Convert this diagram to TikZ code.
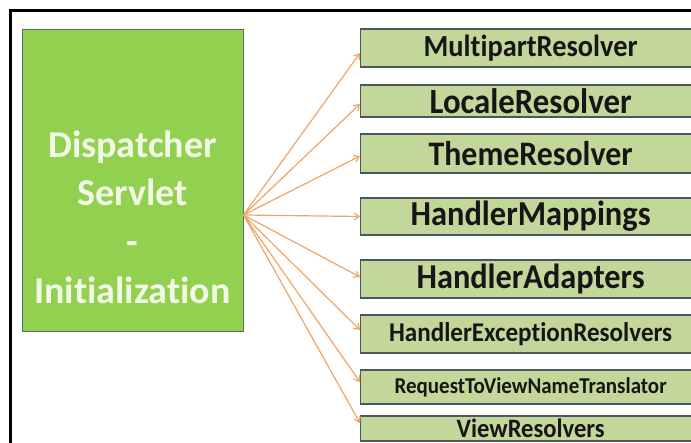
\documentclass[tikz,border=0pt]{standalone}
\usepackage{fontspec}
\setmainfont{Carlito}[Ligatures={NoCommon}]
\usepackage{graphicx}
\usetikzlibrary{arrows.meta}
\definecolor{dsgreen}{RGB}{146,208,80}
\definecolor{dsborder}{RGB}{84,112,100}
\definecolor{rbfill}{RGB}{196,215,155}
\definecolor{rbborder}{RGB}{72,88,92}
\definecolor{arr}{RGB}{240,165,105}
\definecolor{dstext}{RGB}{242,248,230}
\definecolor{rbtext}{RGB}{22,22,22}
\newcommand{\restext}[2]{\scalebox{1}[1.08]{\resizebox{#1}{!}{#2}}}
\begin{document}
\begin{tikzpicture}[x=1pt,y=-1pt,
  resbox/.style={draw=rbborder,line width=1.3pt,fill=rbfill,anchor=west,
    minimum width=340pt,inner sep=0pt,text=rbtext,font=\bfseries},
  fanarrow/.style={draw=arr,line width=1.2pt,
    -{Straight Barb[length=5pt,width=7pt]}}]
\useasboundingbox (0,0) rectangle (691,443);
\fill[white] (0,0) rectangle (691,443);
\begin{scope}
\clip (0,0) rectangle (691,443);
% frame
\draw[line width=2.7pt] (10.7,460) -- (10.7,10.7) -- (700,10.7);
% main box
\node[draw=dsborder,fill=dsgreen,line width=1pt,minimum width=221pt,
      minimum height=302pt,inner sep=0pt] (ds) at (132.5,181) {};
\node[text=dstext,font=\bfseries\fontsize{38}{48.7}\selectfont,align=center]
      (dstxt) at (132.5,217) {Dispatcher\\Servlet\\-\\Initialization};
\coordinate (src) at ([yshift=-34pt]ds.east);
% right boxes
\node[resbox,minimum height=38pt] (b1) at (360,48)    {\restext{214pt}{MultipartResolver}};
\node[resbox,minimum height=32pt] (b2) at (360,101)   {\restext{202pt}{LocaleResolver}};
\node[resbox,minimum height=39pt] (b3) at (360,153.5) {\restext{204pt}{ThemeResolver}};
\node[resbox,minimum height=37pt] (b4) at (360,216.5) {\restext{240pt}{HandlerMappings}};
\node[resbox,minimum height=38pt] (b5) at (360,279)   {\restext{228pt}{HandlerAdapters}};
\node[resbox,minimum height=38pt] (b6) at (360,334)   {\restext{283pt}{HandlerExceptionResolvers}};
\node[resbox,minimum height=34pt] (b7) at (360,387)   {\restext{272pt}{RequestToViewNameTranslator}};
\node[resbox,minimum height=25pt] (b8) at (360,428.5) {\restext{148pt}{ViewResolvers}};
% connectors
\draw[fanarrow] (src) -- ([yshift=-5pt]b1.west);
\draw[fanarrow] (src) -- ([yshift=-3pt]b2.west);
\draw[fanarrow] (src) -- ([yshift=-2.5pt]b3.west);
\draw[fanarrow] (src) -- (b4.west);
\draw[fanarrow] (src) -- ([yshift=2pt]b5.west);
\draw[fanarrow] (src) -- ([yshift=4pt]b6.west);
\draw[fanarrow] (src) -- ([yshift=5pt]b7.west);
\draw[fanarrow] (src) -- ([yshift=5.5pt]b8.west);
\end{scope}
\end{tikzpicture}
\end{document}
